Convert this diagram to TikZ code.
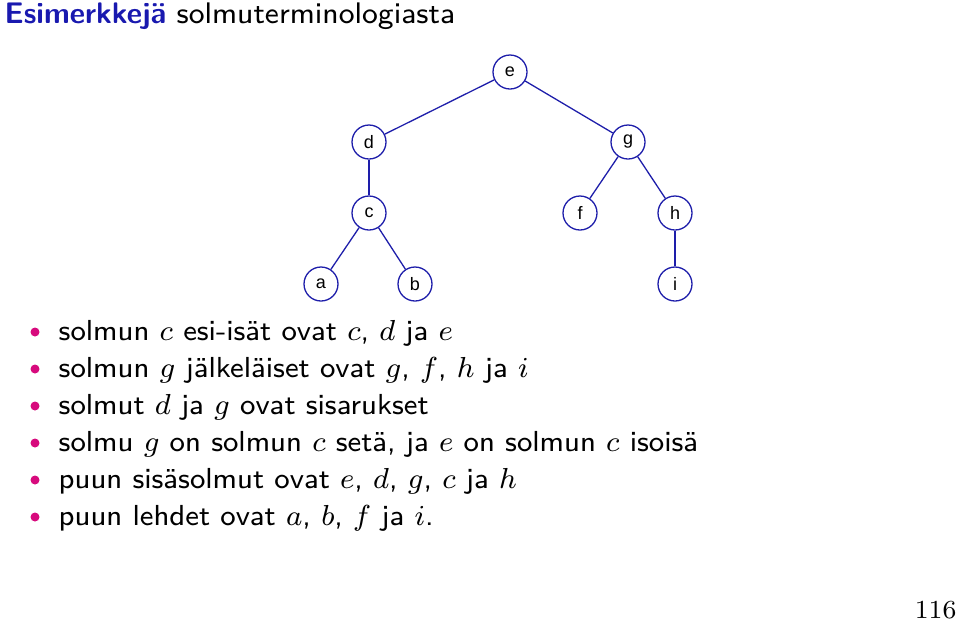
\documentclass[tikz,border=0pt]{standalone}
\usepackage{fontspec}
\usepackage{amsmath}
\setsansfont{Latin Modern Sans}
\newfontfamily\helv{Liberation Sans}
\definecolor{titleblue}{RGB}{25,25,175}
\definecolor{nodeblue}{RGB}{30,30,170}
\definecolor{bulletpink}{RGB}{215,10,125}
\begin{document}
\begin{tikzpicture}[x=1pt,y=-1pt,
  tnode/.style={circle,draw=nodeblue,line width=1.3pt,minimum size=34pt,inner sep=0pt,font=\helv\fontsize{18}{18}\selectfont},
  tedge/.style={draw=nodeblue,line width=1.3pt},
  line/.style={anchor=base west,inner sep=0pt,font=\sffamily\fontsize{8}{10}\selectfont,scale=3.62,transform shape},
  bul/.style={circle,fill=bulletpink,inner sep=0pt,minimum size=9pt}]
\useasboundingbox (0,0) rectangle (959,622);
\node[anchor=base west,inner sep=0pt,font=\sffamily\fontsize{8}{10}\selectfont,scale=3.72,transform shape] (title) at (4,23) {\textcolor{titleblue}{\textbf{Esimerkkejä}} solmuterminologiasta};
\node[tnode] (e) at (510,72) {e};
\node[tnode] (d) at (369,142) {d};
\node[tnode] (g) at (628,142) {g};
\node[tnode] (c) at (369,213) {c};
\node[tnode] (f) at (580,213) {f};
\node[tnode] (h) at (675,213) {h};
\node[tnode] (a) at (321,284) {a};
\node[tnode] (b) at (415,284) {b};
\node[tnode] (i) at (675,284) {i};
\path[tedge] (e) -- (d);
\path[tedge] (e) -- (g);
\path[tedge] (d) -- (c);
\path[tedge] (g) -- (f);
\path[tedge] (g) -- (h);
\path[tedge] (c) -- (a);
\path[tedge] (c) -- (b);
\path[tedge] (h) -- (i);
\node[bul] (b1) at (35,332) {};
\node[bul] (b2) at (35,369) {};
\node[bul] (b3) at (35,406) {};
\node[bul] (b4) at (35,443) {};
\node[bul] (b5) at (35,480) {};
\node[bul] (b6) at (35,517) {};
\node[line] (l1) at (58,340) {solmun $c$ esi-isät ovat $c$, $d$ ja $e$};
\node[line] (l2) at (58,377) {solmun $g$ jälkeläiset ovat $g$, $f$, $h$ ja $i$};
\node[line] (l3) at (58,414) {solmut $d$ ja $g$ ovat sisarukset};
\node[line] (l4) at (58,451) {solmu $g$ on solmun $c$ setä, ja $e$ on solmun $c$ isoisä};
\node[line] (l5) at (58,488) {puun sisäsolmut ovat $e$, $d$, $g$, $c$ ja $h$};
\node[line] (l6) at (58,525) {puun lehdet ovat $a$, $b$, $f$ ja $i$.};
\node[anchor=base east,inner sep=0pt,font=\rmfamily\fontsize{8}{10}\selectfont,scale=3.25,transform shape] (pg) at (957,618) {116};
\end{tikzpicture}
\end{document}
